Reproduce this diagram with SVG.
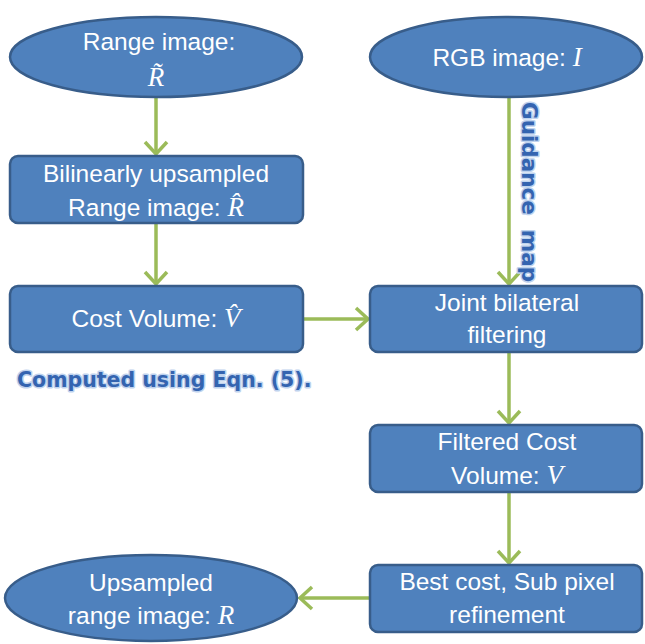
<svg xmlns="http://www.w3.org/2000/svg" width="645" height="644" viewBox="0 0 645 644">
<style>
.n{fill:#4F81BD;stroke:#385D8A;stroke-width:2.5}
.t{font-family:"Liberation Sans",Arial,sans-serif;font-size:24.5px;fill:#fff;text-anchor:middle}
.m{font-family:"Liberation Serif","DejaVu Serif",serif;font-style:italic;font-size:27px}
.c{fill:none;stroke:#9BBB59;stroke-width:3.5}
.lbl{font-family:"DejaVu Sans",Verdana,sans-serif;font-weight:bold;fill:#3464B0;stroke:#BFD3EE;stroke-width:3;paint-order:stroke;stroke-linejoin:round}
</style>
<defs>
<marker id="ah" markerUnits="userSpaceOnUse" markerWidth="26" markerHeight="26" viewBox="-14 -13 16 26" refX="0" refY="0" orient="auto">
<path d="M-12,-11 L0,0 L-12,11" fill="none" stroke="#9BBB59" stroke-width="3.5"/>
</marker>
</defs>
<g id="connectors">
<line class="c" x1="156" y1="98" x2="156" y2="154" marker-end="url(#ah)"/>
<line class="c" x1="156" y1="223" x2="156" y2="284" marker-end="url(#ah)"/>
<line class="c" x1="509" y1="98" x2="509" y2="284" marker-end="url(#ah)"/>
<line class="c" x1="303" y1="319" x2="368" y2="319" marker-end="url(#ah)"/>
<line class="c" x1="509" y1="352" x2="509" y2="423" marker-end="url(#ah)"/>
<line class="c" x1="509" y1="492" x2="509" y2="563" marker-end="url(#ah)"/>
<line class="c" x1="370" y1="598" x2="300" y2="598" marker-end="url(#ah)"/>
</g>
<g id="range-image">
<ellipse class="n" cx="156" cy="57" rx="146" ry="40"/>
<text class="t" x="159" y="50">Range image:</text>
<text class="t m" x="156" y="86">R&#x303;</text>
</g>
<g id="rgb-image">
<ellipse class="n" cx="506" cy="57" rx="136" ry="40"/>
<text class="t" x="507" y="66">RGB image: <tspan class="m">I</tspan></text>
</g>
<g id="bilinear">
<rect class="n" x="10" y="156" width="293" height="67" rx="8"/>
<text class="t" x="156" y="182">Bilinearly upsampled</text>
<text class="t" x="156" y="216">Range image:  <tspan class="m">R&#x302;</tspan></text>
</g>
<g id="cost-volume">
<rect class="n" x="10" y="286" width="293" height="66" rx="8"/>
<text class="t" x="156" y="327">Cost Volume: <tspan class="m">V&#x302;</tspan></text>
</g>
<g id="joint-bilateral">
<rect class="n" x="370" y="286" width="272" height="66" rx="8"/>
<text class="t" x="507" y="311">Joint bilateral</text>
<text class="t" x="507" y="343">filtering</text>
</g>
<g id="filtered-cost">
<rect class="n" x="370" y="425" width="272" height="67" rx="8"/>
<text class="t" x="507" y="450">Filtered Cost</text>
<text class="t" x="507" y="484">Volume: <tspan class="m">V</tspan></text>
</g>
<g id="best-cost">
<rect class="n" x="370" y="565" width="272" height="67" rx="8"/>
<text class="t" x="507" y="590">Best cost, Sub pixel</text>
<text class="t" x="507" y="623">refinement</text>
</g>
<g id="upsampled">
<ellipse class="n" cx="151" cy="598" rx="146" ry="43"/>
<text class="t" x="151" y="591">Upsampled</text>
<text class="t" x="151" y="624">range image: <tspan class="m">R</tspan></text>
</g>
<g id="labels">
<text class="lbl" font-size="21.5" transform="translate(522,102) rotate(90)" xml:space="preserve">Guidance  map</text>
<text class="lbl" font-size="20.5" x="17" y="387">Computed using Eqn. (5).</text>
</g>
</svg>
